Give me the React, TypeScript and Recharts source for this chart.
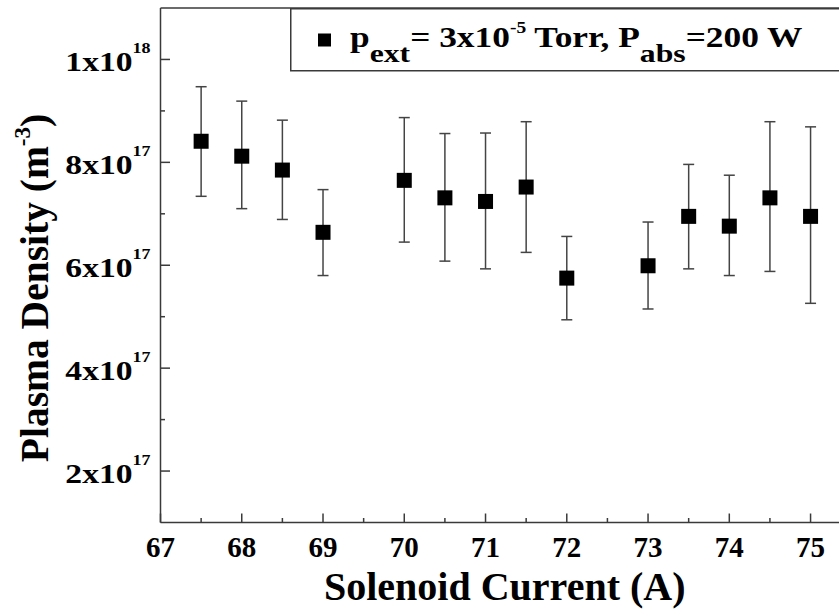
import React from 'react';
import { ScatterChart, Scatter, XAxis, YAxis, ErrorBar, ReferenceLine, Legend } from 'recharts';

// Solenoid current (A)
const currents = [67.5, 68, 68.5, 69, 70, 70.5, 71, 71.5, 72, 73, 73.5, 74, 74.5, 75];
// Plasma density, units of 1e17 m^-3
const density = [8.41, 8.12, 7.85, 6.64, 7.65, 7.31, 7.24, 7.52, 5.75, 5.99, 6.95, 6.76, 7.31, 6.95];
const upperBound = [9.47, 9.19, 8.82, 7.47, 8.87, 8.56, 8.57, 8.79, 6.56, 6.84, 7.96, 7.75, 8.79, 8.69];
const lowerBound = [7.34, 7.1, 6.89, 5.8, 6.45, 6.08, 5.93, 6.25, 4.94, 5.15, 5.93, 5.8, 5.88, 5.26];

const xTicks = [67, 67.5, 68, 68.5, 69, 69.5, 70, 70.5, 71, 71.5, 72, 72.5, 73, 73.5, 74, 74.5, 75];
const yTicks = [2, 3, 4, 5, 6, 7, 8, 9, 10];
const yMajor = [2, 4, 6, 8, 10];
const yMantissa = ['2', '4', '6', '8', '1'];
const yExponent = ['17', '17', '17', '17', '18'];

const data = currents.map((c, i) => ({
  x: c,
  y: density[i],
  err: [density[i] - lowerBound[i], upperBound[i] - density[i]],
}));

const FONT = '"Liberation Serif", "Times New Roman", serif';
const AXIS = '#3a3a3a';

const XTick = (props: any) => {
  const { x, y, payload } = props;
  const v = payload.value;
  const major = Number.isInteger(v);
  return (
    <g>
      <line x1={x} x2={x} y1={y} y2={y - (major ? 9 : 4.5)} stroke={AXIS} strokeWidth={1.5} />
      {major && (
        <text x={x} y={y + 34} textAnchor="middle" fontFamily={FONT} fontWeight="bold" fontSize={29} fill="#000">
          {v}
        </text>
      )}
    </g>
  );
};

const YTick = (props: any) => {
  const { x, y, payload } = props;
  const v = payload.value;
  const idx = yMajor.indexOf(v);
  return (
    <g>
      <line x1={x} x2={x + (idx >= 0 ? 9.5 : 4.5)} y1={y} y2={y} stroke={AXIS} strokeWidth={1.5} />
      {idx >= 0 && (
        <text
          transform={`translate(${x - 10},${y + 11.5}) scale(1.2,1)`}
          textAnchor="end"
          fontFamily={FONT}
          fontWeight="bold"
          fill="#000"
        >
          <tspan fontSize={28}>{yMantissa[idx]}x10</tspan>
          <tspan fontSize={15} dy={-17.5}>{yExponent[idx]}</tspan>
        </text>
      )}
    </g>
  );
};

const XTitle = (props: any) => {
  const vb = props.viewBox || {};
  const cx = vb.x + vb.width / 2 + 5;
  return (
    <text x={cx} y={vb.y + 77} textAnchor="middle" fontFamily={FONT} fontWeight="bold" fontSize={40} fill="#000">
      Solenoid Current (A)
    </text>
  );
};

const YTitle = () => {
  return (
    <text
      transform="translate(48,288) rotate(-90)"
      textAnchor="middle"
      fontFamily={FONT}
      fontWeight="bold"
      fill="#000"
      style={{ whiteSpace: 'pre' }}
    >
      <tspan fontSize={39.5}>Plasma Density (m</tspan>
      <tspan fontSize={23} dy={-18}>-3</tspan>
      <tspan fontSize={39.5} dy={18}>)</tspan>
    </text>
  );
};

const LegendBox = () => (
  <svg width={549} height={64} style={{ display: 'block' }}>
    <rect x={0.75} y={0.75} width={700} height={62} fill="#fff" stroke={AXIS} strokeWidth={1.5} />
    <rect x={28} y={25.5} width={13} height={13} fill="#000" />
    <text
      transform="translate(60,39) scale(1.22,1)"
      fontFamily={FONT}
      fontWeight="bold"
      fill="#000"
      style={{ whiteSpace: 'pre' }}
    >
      <tspan fontSize={29}>p</tspan>
      <tspan fontSize={26} dy={15}>ext</tspan>
      <tspan fontSize={29} dy={-15}>= 3x10</tspan>
      <tspan fontSize={16} dy={-14}>-5</tspan>
      <tspan fontSize={29} dy={14}> Torr, P</tspan>
      <tspan fontSize={26} dy={15}>abs</tspan>
      <tspan fontSize={29} dy={-15}>=200 W</tspan>
    </text>
  </svg>
);

export default function App() {
  return (
    <div style={{ position: 'absolute', left: 0, top: 0, background: '#fff' }}>
      <ScatterChart width={839} height={612} margin={{ top: 8, right: 0, bottom: 0, left: 0 }}>
        <XAxis
          type="number"
          dataKey="x"
          domain={[67, 75.35]}
          ticks={xTicks}
          interval={0}
          allowDataOverflow
          height={89.5}
          tickSize={0}
          tickMargin={0}
          tickLine={false}
          axisLine={{ stroke: AXIS, strokeWidth: 1.5 }}
          tick={<XTick />}
          label={<XTitle />}
        />
        <YAxis
          type="number"
          dataKey="y"
          domain={[1, 11]}
          ticks={yTicks}
          interval={0}
          allowDataOverflow
          width={160.5}
          tickSize={0}
          tickMargin={0}
          tickLine={false}
          axisLine={{ stroke: AXIS, strokeWidth: 1.5 }}
          tick={<YTick />}
          label={<YTitle />}
        />
        <ReferenceLine y={11} stroke={AXIS} strokeWidth={1.5} />
        <Legend
          layout="vertical"
          align="center"
          verticalAlign="middle"
          wrapperStyle={{ position: 'absolute', left: 290, top: 7.5, width: 549, height: 64 }}
          content={() => <LegendBox />}
        />
        <Scatter
          data={data}
          isAnimationActive={false}
          shape={(p: any) => <rect x={p.cx - 7.5} y={p.cy - 7.5} width={15} height={15} fill="#000" />}
        >
          <ErrorBar dataKey="err" direction="y" width={5.5} stroke="#444" strokeWidth={1.5} isAnimationActive={false} />
        </Scatter>
      </ScatterChart>
    </div>
  );
}
